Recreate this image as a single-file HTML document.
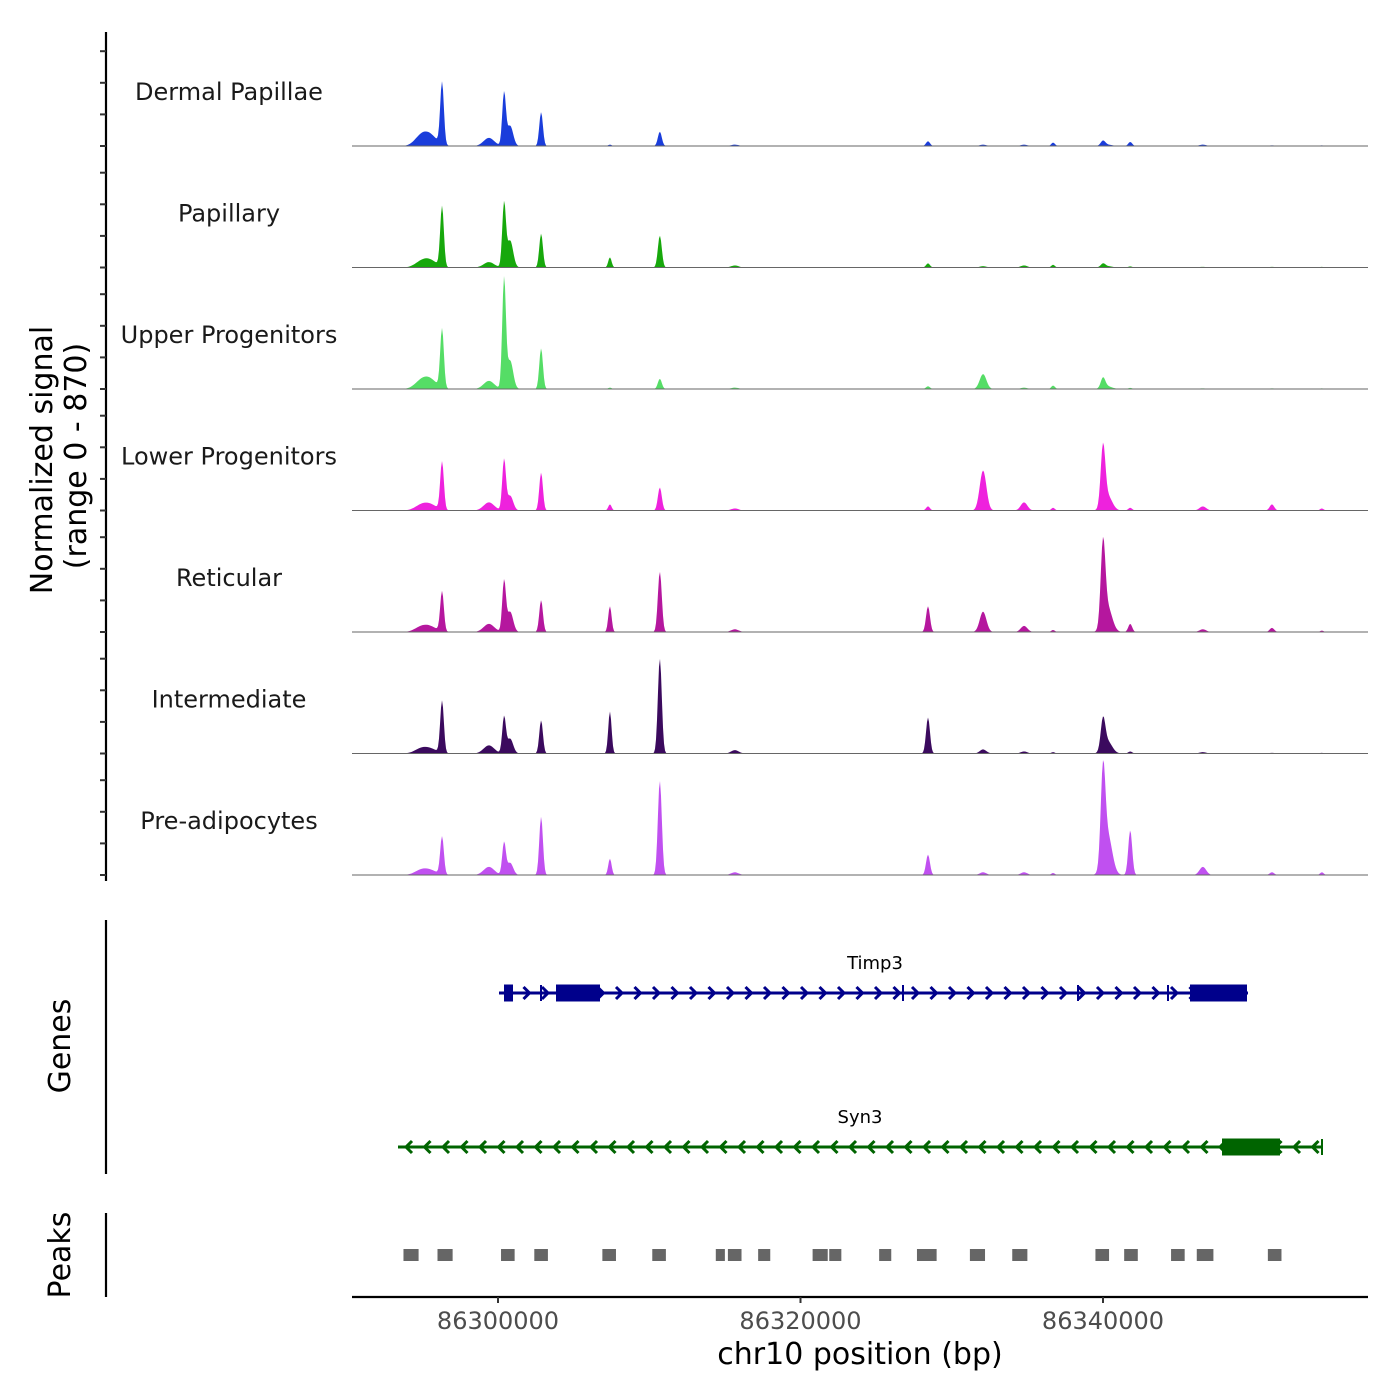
<!DOCTYPE html>
<html><head><meta charset="utf-8"><style>
body{margin:0;background:#fff}
svg{display:block;font-family:"DejaVu Sans","Liberation Sans",sans-serif}
</style></head><body>
<svg id="chart" width="1400" height="1400" viewBox="0 0 1400 1400" xmlns="http://www.w3.org/2000/svg">
<rect width="1400" height="1400" fill="#fff"/>
<g id="tracks"></g>
<g id="yaxis"></g>
<text transform="translate(52,460) rotate(-90)" text-anchor="middle" font-size="30" fill="#000">Normalized signal</text>
<text transform="translate(86,456) rotate(-90)" text-anchor="middle" font-size="30" fill="#000">(range 0 - 870)</text>
<line x1="106" y1="920" x2="106" y2="1174" stroke="#000" stroke-width="2.2"/>
<text transform="translate(70,1046) rotate(-90)" text-anchor="middle" font-size="30">Genes</text>
<g id="genes"></g>
<line x1="106" y1="1213" x2="106" y2="1297" stroke="#000" stroke-width="2.2"/>
<text transform="translate(70,1255) rotate(-90)" text-anchor="middle" font-size="30">Peaks</text>
<g id="peaks"></g>
<g id="xaxis"></g>
<text x="860" y="1364" text-anchor="middle" font-size="30">chr10 position (bp)</text>
</svg>
<script>
const trackNames=["Dermal Papillae","Papillary","Upper Progenitors","Lower Progenitors","Reticular","Intermediate","Pre-adipocytes"];
const trackColors=["#1a3ddb","#17a80c","#55dd66","#ee22dd","#b5179e","#3b0a5e","#c050f0"];
// peak centers (bp offset from 86,300,000), widths (bp)
const peakPos=[-3700,-4600,-5200,400,800,-600,2850,7400,10700,15660,28430,32070,34780,36700,40000,40300,41800,46600,51170,54470];
const peakWidth=[120,500,400,120,200,350,120,110,130,250,130,220,220,120,150,300,130,220,150,120];
// signal heights per track, matching peakPos order
const sigDermal=[460,90,40,385,150,60,250,10,105,10,35,10,10,25,35,10,30,10,5,5];
const sigPapillary=[445,60,20,465,200,40,250,75,235,15,30,10,15,20,25,10,8,5,5,5];
const sigUpper=[435,80,30,805,210,60,300,10,75,10,20,110,10,25,75,20,8,5,5,5];
const sigLower=[355,50,20,370,110,60,280,45,170,15,30,295,60,20,435,110,20,30,45,15];
const sigReticular=[295,45,20,370,150,60,235,190,445,20,190,150,45,15,590,185,60,20,30,10];
const sigIntermediate=[385,40,20,265,110,60,245,310,700,25,265,30,15,10,220,90,15,10,5,5];
const sigPreadipo=[280,40,20,235,90,60,430,120,695,20,150,20,20,15,665,300,330,60,20,20];
const trackSignals=[sigDermal,sigPapillary,sigUpper,sigLower,sigReticular,sigIntermediate,sigPreadipo];
const xTicks=[86300000,86320000,86340000];
const peakRegions=[[86293750,86294750],[86296000,86297000],[86300200,86301100],[86302400,86303300],[86306900,86307800],[86310200,86311100],[86314400,86315000],[86315200,86316100],[86317200,86318000],[86320800,86321800],[86321900,86322700],[86325200,86326000],[86327700,86329000],[86331200,86332200],[86334000,86335000],[86339500,86340400],[86341400,86342300],[86344500,86345400],[86346200,86347300],[86350900,86351800]];

const NS="http://www.w3.org/2000/svg";
const X0=352,X1=1368;
const xs=bp=>498+(bp-86300000)*302.5/20000;
const baseY=i=>146+i*121.5;
const ys=(v,i)=>baseY(i)-v/870*118;
function mk(tag,attrs,parent){const e=document.createElementNS(NS,tag);for(const k in attrs)e.setAttribute(k,attrs[k]);parent.appendChild(e);return e;}

const tracks=document.getElementById('tracks');
trackNames.forEach((name,i)=>{
  const sig=trackSignals[i];
  let d="M"+X0+","+baseY(i);
  for(let px=X0;px<=X1;px+=1){
    const bp=86300000+(px-498)*20000/302.5;
    let v=0;
    for(let k=0;k<peakPos.length;k++){
      const dx=(bp-86300000-peakPos[k])/peakWidth[k];
      v+=sig[k]*Math.exp(-0.5*dx*dx);
    }
    if(v>870)v=870;
    d+=" L"+px+","+ys(v,i).toFixed(2);
  }
  d+=" L"+X1+","+baseY(i)+" Z";
  const p=mk('path',{d:d,fill:trackColors[i]},tracks);
  
  
  const bl=mk('line',{x1:X0,x2:X1,y1:baseY(i),y2:baseY(i),stroke:'#666','stroke-width':1},tracks);
  
  
  const t=mk('text',{x:229,y:baseY(i)-46,'text-anchor':'middle','font-size':24,fill:'#1a1a1a'},tracks);
  t.textContent=name;
  
  
});

const ya=document.getElementById('yaxis');
mk('line',{x1:106,x2:106,y1:32,y2:881,stroke:'#000','stroke-width':2.2},ya);
for(let i=0;i<7;i++){for(let j=0;j<4;j++){
  const y=baseY(i)-j*31.6;
  const tk=mk('line',{x1:100,x2:106,y1:y,y2:y,stroke:'#333','stroke-width':2},ya);
  
  
}}

const g=document.getElementById('genes');
function gene(x1,x2,y,color,dir,boxes,ticks,label,lx){
  mk('line',{x1:x1,x2:x2,y1:y,y2:y,stroke:color,'stroke-width':3},g);
  for(let x=x1+10;x<x2-6;x+=18.5){
    const a=dir>0?`M${x-4},${y-6} L${x+2},${y} L${x-4},${y+6}`:`M${x+4},${y-6} L${x-2},${y} L${x+4},${y+6}`;
    mk('path',{d:a,stroke:color,fill:'none','stroke-width':3},g);
  }
  boxes.forEach(b=>{const r=mk('rect',{x:b[0],y:y-8.5,width:b[1]-b[0],height:17,fill:color},g);
    });
  ticks.forEach(x=>mk('line',{x1:x,x2:x,y1:y-8,y2:y+8,stroke:color,'stroke-width':2},g));
  const t=mk('text',{x:lx,y:y-24,'text-anchor':'middle','font-size':18},g);
  t.textContent=label;
  
  
}
gene(499,1248,993,'#00008b',1,[[504,513],[556,600],[1190,1247]],[541,903,1078,1168],'Timp3',875);
gene(398,1322,1147,'#006400',-1,[[1222,1280]],[1322],'Syn3',860);

const pk=document.getElementById('peaks');
peakRegions.forEach(r=>{
  const a=xs(r[0]),b=xs(r[1]);
  const e=mk('rect',{x:a,y:1249,width:Math.max(b-a,8),height:12,fill:'#666'},pk);
  
  
});

const xa=document.getElementById('xaxis');
mk('line',{x1:X0,x2:X1,y1:1297,y2:1297,stroke:'#000','stroke-width':2.2},xa);
xTicks.forEach(v=>{
  const x=xs(v);
  mk('line',{x1:x,x2:x,y1:1297,y2:1303,stroke:'#333','stroke-width':2},xa);
  const t=mk('text',{x:x,y:1329,'text-anchor':'middle','font-size':24,fill:'#4d4d4d'},xa);
  t.textContent=v;
  
  
});
</script>
</body></html>
